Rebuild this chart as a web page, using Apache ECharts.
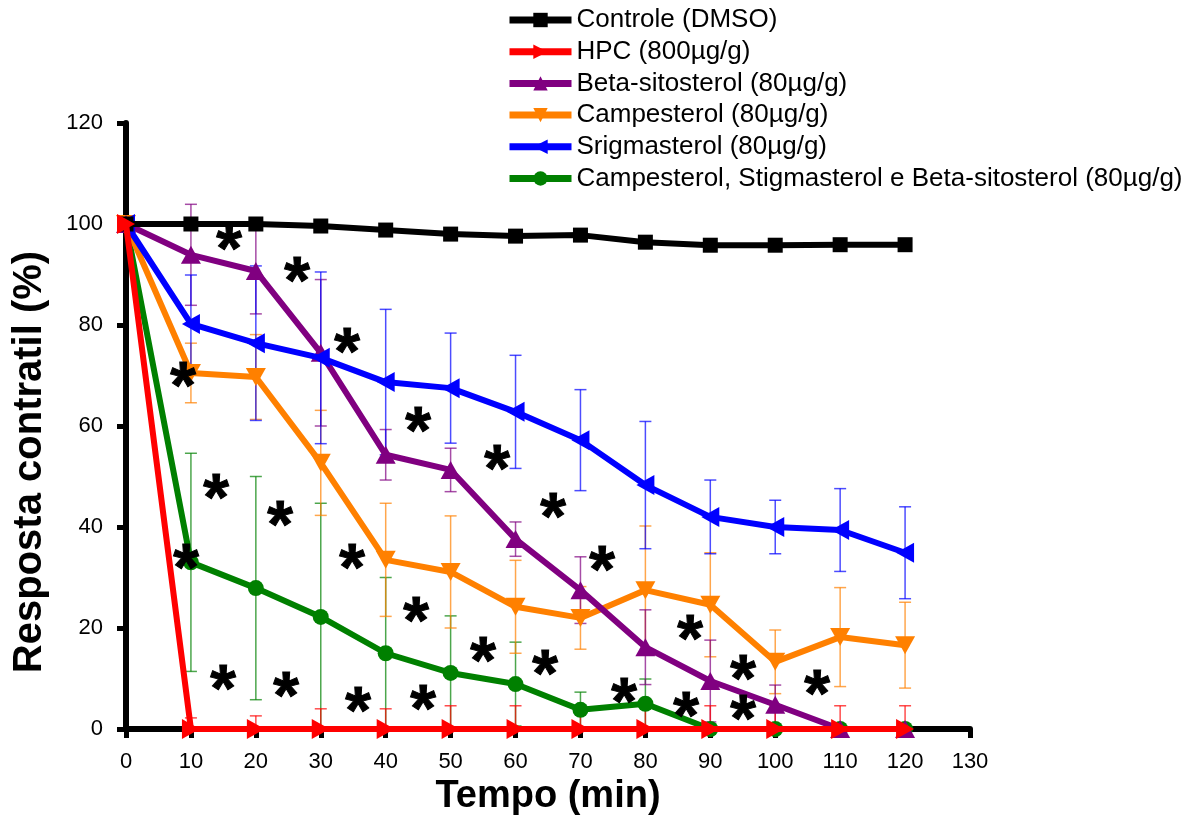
<!DOCTYPE html>
<html><head><meta charset="utf-8">
<script src="https://cdn.jsdelivr.net/npm/echarts@6/dist/echarts.min.js"></script>
<style>html,body{margin:0;padding:0;background:#fff}#c{width:1197px;height:816px}</style>
</head><body><div id="c"></div>
<script>
const times = [0,10,20,30,40,50,60,70,80,90,100,110,120];
const controle = [100,100,100,99.6,98.8,98,97.6,97.8,96.4,95.8,95.8,95.9,95.9];
const hpc = [100,0,0,0,0,0,0,0,0,0,0,0,0];
const hpcErr = [0,2.2,2.6,4,4,4.6,4.6,4.4,4.4,4.6,4.6,4.6,4.6];
const beta = [100,93.9,90.7,74.5,54.3,51.3,37.6,27.5,16.2,9.5,4.8,0,0];
const betaErr = [0,10,8.5,14.5,5,4.3,3.4,6.6,7.4,8.1,3.9,0,0];
const camp = [100,70.5,69.7,52.7,33.5,31.1,24.2,22,27.5,24.6,13.3,18.2,16.6];
const campErr = [0,5.9,8.4,10.4,11.2,11.1,9.2,6.2,12.7,10.3,6.3,9.8,8.5];
const stig = [100,80.2,76.4,73.5,68.7,67.5,62.8,57.2,48.3,42,40,39.4,34.9];
const stigErr = [0,9.7,15.3,17,14.4,10.9,11.2,10,12.6,7.3,5.3,8.2,9.1];
const combo = [100,33,27.9,22.2,15,11.1,8.9,3.8,5,0,0,0,0];
const comboErr = [0,21.6,22.1,22.5,15,11.3,8.3,3.5,4.9,0,0,0,0];
const starX = [15.87,26.34,34.04,8.78,44.98,57.15,65.78,13.86,23.72,9.24,34.81,73.32,44.67,86.88,54.99,64.54,95.04,14.94,24.65,35.74,45.75,76.71,86.26,95.04,106.44];
const starY = [97.2,90.9,76.8,70.1,61.2,53.7,44.2,47.9,42.6,34.1,34.1,33.7,23.6,20.0,15.6,13.1,12.1,10.1,8.7,5.7,6.1,7.5,4.8,4.2,9.1];
const names = ['Controle (DMSO)','HPC (800µg/g)','Beta-sitosterol (80µg/g)','Campesterol (80µg/g)','Srigmasterol (80µg/g)','Campesterol, Stigmasterol e Beta-sitosterol (80µg/g)'];

const colors = {c:'#000000',h:'#ff0000',b:'#800080',o:'#ff8000',s:'#0000ff',g:'#008000'};
const FONT = '"Liberation Sans", Arial, sans-serif';

function pairs(arr){ return times.map((t,i)=>[t,arr[i]]); }
function errData(arr, err){ return times.map((t,i)=>[t, Math.max(0,arr[i]-err[i]), arr[i]+err[i]]).filter((d,i)=>err[i]>0); }
function errSeries(arr, err, color){
  return {
    type:'custom', silent:true, z:1, clip:false,
    data: errData(arr, err),
    renderItem: function(params, api){
      const x = api.value(0), lo = api.value(1), hi = api.value(2);
      const pHi = api.coord([x,hi]), pLo = api.coord([x,lo]);
      const w = 6;
      const st = {stroke:color, lineWidth:1.5, opacity:0.7};
      return {type:'group', children:[
        {type:'line', shape:{x1:pHi[0],y1:pHi[1],x2:pLo[0],y2:pLo[1]}, style:st},
        {type:'line', shape:{x1:pHi[0]-w,y1:pHi[1],x2:pHi[0]+w,y2:pHi[1]}, style:st},
        {type:'line', shape:{x1:pLo[0]-w,y1:pLo[1],x2:pLo[0]+w,y2:pLo[1]}, style:st}
      ]};
    }
  };
}
function lineSeries(name, arr, color, symbol, size, z){
  return {name, type:'line', data:pairs(arr), symbol, symbolSize:size, z,
    lineStyle:{color, width:6}, itemStyle:{color, borderWidth:0}, showSymbol:true,
    emphasis:{disabled:true}, animation:false};
}
const triR = 'path://M0,0 L10,5 L0,10 Z';
const triD = 'path://M0,0 L10,0 L5,9 Z';
const triU = 'path://M5,0 L10,9 L0,9 Z';
const triL = 'path://M10,0 L0,5 L10,10 Z';

const chart = echarts.init(document.getElementById('c'), null, {renderer:'canvas'});
chart.setOption({
  animation:false,
  grid:{left:126, right:227, top:123, bottom:87, containLabel:false, outerBoundsMode:'none'},
  legend:{
    data:names, orient:'vertical', left:506, top:7, padding:0, itemGap:5.7,
    itemWidth:62, itemHeight:18, selectedMode:false,
    lineStyle:{width:7},
    textStyle:{fontFamily:FONT, fontSize:26, color:'#000'}
  },
  xAxis:{type:'value', min:0, max:130, interval:10,
    name:'Tempo (min)', nameLocation:'middle', nameGap:47,
    nameTextStyle:{fontFamily:FONT, fontSize:38, fontWeight:'bold', color:'#000'},
    axisLine:{lineStyle:{color:'#000', width:6}},
    axisTick:{length:9, lineStyle:{width:5, color:'#000'}},
    axisLabel:{fontFamily:FONT, fontSize:22, color:'#000', margin:22},
    splitLine:{show:false}},
  yAxis:{type:'value', min:0, max:120, interval:20,
    name:'Resposta contratil (%)', nameLocation:'middle', nameGap:76, nameRotate:90,
    nameTextStyle:{fontFamily:FONT, fontSize:40, fontWeight:'bold', color:'#000', padding:[0,72,0,0]},
    axisLine:{lineStyle:{color:'#000', width:6}},
    axisTick:{length:9, lineStyle:{width:5, color:'#000'}},
    axisLabel:{fontFamily:FONT, fontSize:22, color:'#000', margin:23},
    splitLine:{show:false}},
  series:[
    errSeries(combo, comboErr, colors.g),
    errSeries(camp, campErr, colors.o),
    errSeries(beta, betaErr, colors.b),
    errSeries(stig, stigErr, colors.s),
    errSeries(hpc, hpcErr, colors.h),
    lineSeries(names[5], combo, colors.g, 'circle', 16, 3),
    lineSeries(names[3], camp, colors.o, triD, [20,18], 4),
    lineSeries(names[2], beta, colors.b, triU, [20,18], 5),
    lineSeries(names[4], stig, colors.s, triL, [18,20], 6),
    lineSeries(names[0], controle, colors.c, 'rect', 15, 7),
    lineSeries(names[1], hpc, colors.h, triR, [18,20], 8),
    {type:'custom', silent:true, z:10, clip:false, data:starX.map((x,i)=>[x,starY[i]]),
      renderItem: function(params, api){
        const p = api.coord([api.value(0), api.value(1)]);
        return {type:'text', x:p[0], y:p[1]+15, style:{text:'*', fill:'#000', stroke:'#000', lineWidth:1,
          font:'bold 66px "Liberation Sans", Arial, sans-serif', align:'center', verticalAlign:'middle'}};
      }}
  ]
});
</script></body></html>
